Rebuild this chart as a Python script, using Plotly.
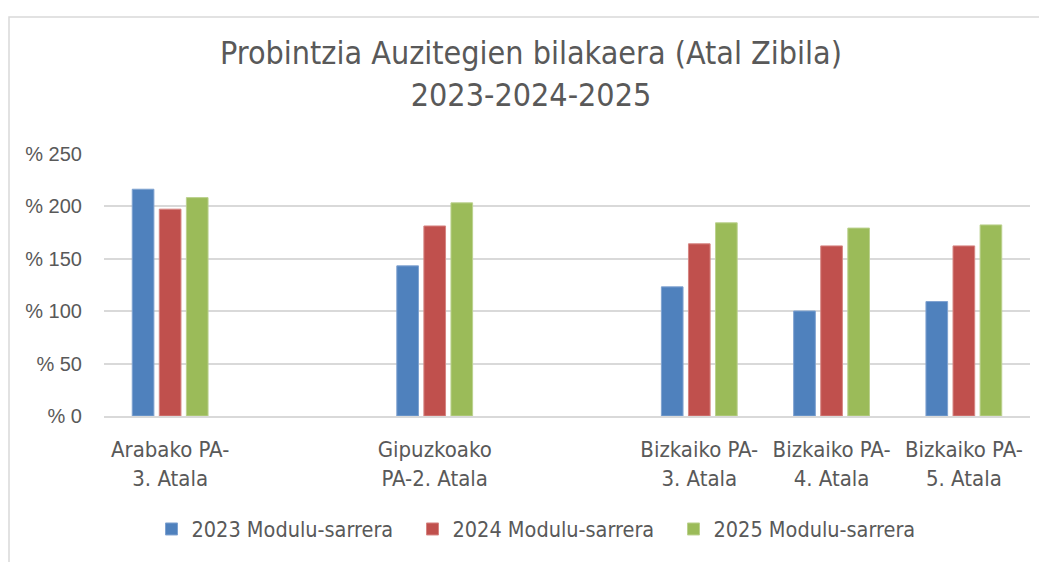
import plotly.graph_objects as go

categories = ["Arabako PA-<br>3. Atala", " ", "Gipuzkoako<br>PA-2. Atala", "  ",
              "Bizkaiko PA-<br>3. Atala", "Bizkaiko PA-<br>4. Atala", "Bizkaiko PA-<br>5. Atala"]
series_names = ["2023 Modulu-sarrera", "2024 Modulu-sarrera", "2025 Modulu-sarrera"]
v2023 = [216, None, 143, None, 123, 100, 109]
v2024 = [197, None, 181, None, 164, 162, 162]
v2025 = [208, None, 203, None, 184, 179, 182]
colors = ["#4F81BD", "#C0504D", "#9BBB59"]
edge_colors = ["#7FA2D0", "#D68582", "#BBD18E"]
y_ticks = [0, 50, 100, 150, 200, 250]

W, H = 1047, 562
OX, OY = 9, 9  # page offset of the figure in the screenshot
L, R, T, B = 105 - OX, 16 + OX, 154 - OY, 145 + OY
pw, ph = W - L - R, H - T - B

def px_x(p):
    return (p - OX - L) / pw

def px_y(p):
    return (H - B - (p - OY)) / ph

narrow = "Liberation Sans Narrow, DejaVu Sans Condensed, Arial Narrow, sans-serif"
grey = "#595959"

fig = go.Figure()
for name, vals, c, ec in zip(series_names, [v2023, v2024, v2025], colors, edge_colors):
    fig.add_trace(go.Bar(x=categories, y=vals, name=name,
                         marker=dict(color=c, line=dict(color=ec, width=1))))

fig.update_layout(
    width=W, height=H,
    margin=dict(l=L, r=R, t=T, b=B),
    paper_bgcolor="white", plot_bgcolor="white",
    barmode="group", bargap=0.386, bargroupgap=0.2,
    title=dict(text="Probintzia Auzitegien bilakaera (Atal Zibila)<br>2023-2024-2025",
               x=(532 - OX) / W, xanchor="center", y=1 - (65 - OY) / H, yanchor="top",
               yref="container",
               font=dict(family=narrow, size=32, color=grey)),
    legend=dict(orientation="h", x=0.5 - 24 / pw, xanchor="center", y=px_y(530), yanchor="middle",
                font=dict(family=narrow, size=21.5, color=grey), itemwidth=30,
                traceorder="normal", entrywidth=216, entrywidthmode="pixels"),
    xaxis=dict(type="category", categoryorder="array", categoryarray=categories,
               showline=True, linecolor="#d9d9d9", linewidth=1.5,
               ticks="outside", ticklen=13, tickcolor="rgba(0,0,0,0)",
               tickfont=dict(family=narrow, size=22, color=grey), showgrid=False),
    yaxis=dict(range=[0, 250.5], tickvals=y_ticks, ticktext=["% " + str(v) for v in y_ticks],
               showgrid=True, gridcolor="#d9d9d9", gridwidth=1.5, zeroline=False,
               ticks="outside", ticklen=17, tickcolor="rgba(0,0,0,0)",
               tickfont=dict(family="Liberation Sans, Arial, sans-serif", size=20, color=grey)),
    shapes=[dict(type="rect", xref="paper", yref="paper",
                 x0=px_x(OX + 1), x1=px_x(1080), y0=px_y(18), y1=px_y(640),
                 line=dict(color="#d9d9d9", width=1.5), fillcolor="rgba(0,0,0,0)", layer="below")],
)

fig.write_html("out.html")
